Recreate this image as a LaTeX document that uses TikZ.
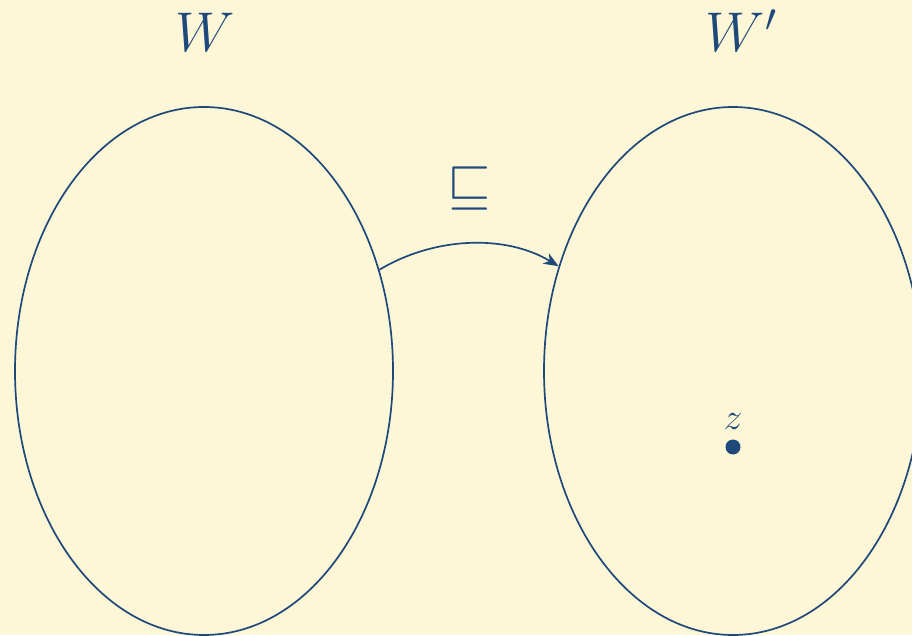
\RequirePackage{fix-cm}
\documentclass[tikz,border=0pt]{standalone}
\usetikzlibrary{shapes.geometric,arrows.meta}
\definecolor{bg}{RGB}{253,247,215}
\definecolor{ink}{RGB}{30,73,122}
\tikzset{
  world/.style={draw=ink, line width=1.7pt, ellipse, minimum width=378pt, minimum height=528pt, inner sep=0pt},
  biglabel/.style={text=ink, anchor=base, inner sep=0pt, font=\fontsize{56}{60}\selectfont},
  smalllabel/.style={text=ink, anchor=base, inner sep=0pt, font=\fontsize{37}{40}\selectfont},
  arr/.style={draw=ink, line width=1.7pt, -{Stealth[length=15pt,width=12pt,inset=4.5pt]}}
}
\begin{document}
\begin{tikzpicture}[x=1pt,y=1pt]
\fill[bg] (0,0) rectangle (912,635);
\useasboundingbox (0,0) rectangle (912,635);
\node[world] (L) at (204,264) {};
\node[world] (R) at (733,264) {};
\node[biglabel] (WL) at (205,583) {$W$};
\node[biglabel] (WR) at (741,583) {$W'$};
\node[text=ink, inner sep=0pt, font=\fontsize{56}{60}\selectfont] (ord) at (469.5,446) {$\sqsubseteq$};
\node[smalllabel] (zl) at (733,206) {$z$};
\node[circle, fill=ink, minimum size=15pt, inner sep=0pt] (z) at (733,188) {};
\draw[arr] (L.30) to[out=31,in=149,looseness=0.9] (R.149.4);
\end{tikzpicture}
\end{document}
